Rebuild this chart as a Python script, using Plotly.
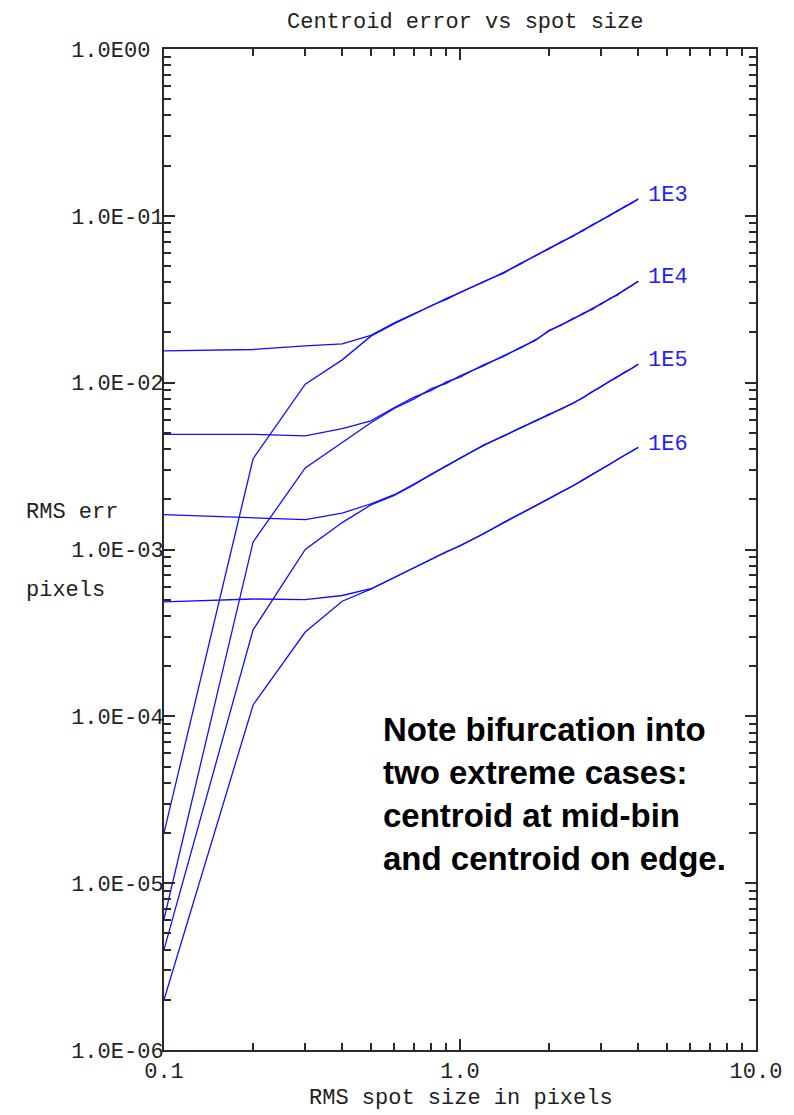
import numpy as np
import plotly.graph_objects as go

# ---------------- data ----------------
spot_size = [0.1, 0.2, 0.3, 0.4, 0.5, 0.6, 0.7, 0.8, 0.9, 1.0, 1.2, 1.4, 1.6, 1.8,
             2.0, 2.2, 2.4, 2.6, 2.8, 3.0, 3.2, 3.4, 3.6, 3.8, 4.0]

# centroid at mid-bin (flat at small spot sizes)
mid_1e3 = [0.0155, 0.0158, 0.0166, 0.0171, 0.0192, 0.0228, 0.0259, 0.0288, 0.0320, 0.0346,
           0.0404, 0.0452, 0.0519, 0.0574, 0.0641, 0.0692, 0.0760, 0.0812, 0.0886, 0.0938,
           0.1012, 0.1063, 0.1140, 0.1188, 0.1265]
mid_1e4 = [0.0049, 0.0049, 0.0048, 0.0053, 0.0059, 0.0071, 0.0082, 0.0090, 0.0101, 0.0108,
           0.0128, 0.0143, 0.0163, 0.0179, 0.0206, 0.0221, 0.0242, 0.0257, 0.0279, 0.0295,
           0.0319, 0.0335, 0.0362, 0.0380, 0.0407]
mid_1e5 = [0.00162, 0.00155, 0.00151, 0.00165, 0.00188, 0.00213, 0.00247, 0.00281, 0.00319,
           0.00351, 0.00423, 0.00476, 0.00538, 0.00588, 0.00647, 0.00694, 0.00753, 0.00810,
           0.00884, 0.00945, 0.01020, 0.01080, 0.01157, 0.01216, 0.01295]
mid_1e6 = [4.85e-4, 5.05e-4, 5.0e-4, 5.3e-4, 5.82e-4, 6.83e-4, 7.76e-4, 8.77e-4, 9.66e-4,
           1.055e-3, 1.238e-3, 1.450e-3, 1.637e-3, 1.835e-3, 2.016e-3, 2.215e-3, 2.396e-3,
           2.615e-3, 2.815e-3, 3.035e-3, 3.235e-3, 3.465e-3, 3.665e-3, 3.885e-3, 4.10e-3]

# centroid on pixel edge (steep at small spot sizes)
edge_1e3 = [2.0e-5, 3.5e-3, 9.8e-3, 0.0137, 0.0190, 0.0226, 0.0257, 0.0290, 0.0316, 0.0348,
            0.0400, 0.0458, 0.0513, 0.0580, 0.0634, 0.0700, 0.0751, 0.0822, 0.0875, 0.0948,
            0.1000, 0.1075, 0.1126, 0.1200, 0.1255]
edge_1e4 = [6.1e-6, 1.11e-3, 3.08e-3, 4.35e-3, 5.75e-3, 0.0070, 0.0080, 0.0092, 0.0099, 0.0110,
            0.0126, 0.0145, 0.0161, 0.0181, 0.0204, 0.0223, 0.0239, 0.0260, 0.0275, 0.0299,
            0.0316, 0.0339, 0.0358, 0.0384, 0.0403]
edge_1e5 = [4.0e-6, 3.3e-4, 1.0e-3, 1.45e-3, 1.85e-3, 0.00211, 0.00245, 0.00283, 0.00316,
            0.00353, 0.00419, 0.00480, 0.00533, 0.00592, 0.00641, 0.00700, 0.00748, 0.00816,
            0.00877, 0.00951, 0.01013, 0.01087, 0.01148, 0.01224, 0.01285]
edge_1e6 = [2.0e-6, 1.17e-4, 3.2e-4, 4.9e-4, 5.78e-4, 6.79e-4, 7.80e-4, 8.71e-4, 9.70e-4,
            1.049e-3, 1.243e-3, 1.444e-3, 1.643e-3, 1.826e-3, 2.024e-3, 2.205e-3, 2.404e-3,
            2.605e-3, 2.825e-3, 3.025e-3, 3.245e-3, 3.455e-3, 3.675e-3, 3.875e-3, 4.09e-3]

series_labels = ["1E3", "1E4", "1E5", "1E6"]
mid_series = [mid_1e3, mid_1e4, mid_1e5, mid_1e6]
edge_series = [edge_1e3, edge_1e4, edge_1e5, edge_1e6]

x_tickvals = [0.1, 1.0, 10.0]
x_ticktext = ["0.1", "1.0", "10.0"]
x_minor = [0.2, 0.3, 0.4, 0.5, 0.6, 0.7, 0.8, 0.9, 2, 3, 4, 5, 6, 7, 8, 9]
y_tickvals = [1e0, 1e-1, 1e-2, 1e-3, 1e-4, 1e-5, 1e-6]
y_ticktext = ["1.0E00", "1.0E-01", "1.0E-02", "1.0E-03", "1.0E-04", "1.0E-05", "1.0E-06"]
y_minor = [m * 10.0 ** e for e in range(-6, 0) for m in range(2, 10)]

title_text = "Centroid error vs spot size"
x_title = "RMS spot size in pixels"
y_title_top = "RMS err"
y_title_bottom = "pixels"
note_lines = ["Note bifurcation into", "two extreme cases:",
              "centroid at mid-bin", "and centroid on edge."]

# ---------------- figure ----------------
LINE = "rgb(15,15,255)"
MONO = "Liberation Mono, Courier New, monospace"
AXC = "#2a2a2a"
TXT = "#222"
FS = 22

fig = go.Figure()
for lab, mid, edge in zip(series_labels, mid_series, edge_series):
    fig.add_trace(go.Scatter(x=spot_size, y=mid, mode="lines",
                             line=dict(color=LINE, width=1.3), name=lab + " mid-bin",
                             showlegend=False))
    fig.add_trace(go.Scatter(x=spot_size, y=edge, mode="lines",
                             line=dict(color=LINE, width=1.3), name=lab + " edge",
                             showlegend=False))

# plot-area geometry in page pixels (used to place paper-referenced texts)
PL, PR, PT, PB = 164, 766, 49, 1050
def px(xp):
    return (xp - PL) / (PR - PL)
def py(yp):
    return (PB - yp) / (PB - PT)

# curve-end labels
for lab, mid in zip(series_labels, mid_series):
    fig.add_annotation(x=np.log10(spot_size[-1]), y=np.log10(mid[-1]),
                       xref="x", yref="y", text=lab, showarrow=False,
                       xanchor="left", yanchor="middle", xshift=8, yshift=3,
                       font=dict(family=MONO, size=FS, color="rgb(30,30,255)"))

# y axis side titles
fig.add_annotation(x=px(22), y=py(513), xref="paper", yref="paper",
                   text=y_title_top, showarrow=False, xanchor="left", yanchor="middle",
                   font=dict(family=MONO, size=FS, color=TXT))
fig.add_annotation(x=px(22), y=py(590), xref="paper", yref="paper",
                   text=y_title_bottom, showarrow=False, xanchor="left", yanchor="middle",
                   font=dict(family=MONO, size=FS, color=TXT))
# x axis title
fig.add_annotation(x=px(466), y=py(1098), xref="paper", yref="paper",
                   text=x_title, showarrow=False, xanchor="center", yanchor="middle",
                   font=dict(family=MONO, size=FS, color=TXT))
# chart title
fig.add_annotation(x=px(470), y=py(23), xref="paper", yref="paper",
                   text=title_text, showarrow=False, xanchor="center", yanchor="middle",
                   font=dict(family=MONO, size=FS, color=TXT))
# note
fig.add_annotation(x=px(385), y=py(794), xref="paper", yref="paper",
                   text="<br>".join("<b>" + s + "</b>" for s in note_lines),
                   showarrow=False, xanchor="left", yanchor="middle", align="left",
                   font=dict(family="Liberation Sans, Arial, sans-serif", size=33,
                             color="black"))

axis_common = dict(showgrid=False, zeroline=False, showline=True, linecolor=AXC,
                   linewidth=2, mirror="allticks", ticks="inside", ticklen=11,
                   tickwidth=2, tickcolor=AXC,
                   tickfont=dict(family=MONO, size=FS, color=TXT))

fig.update_xaxes(type="log", range=[-1, 1], tickmode="array", tickvals=x_tickvals,
                 ticktext=x_ticktext,
                 minor=dict(tickmode="array", tickvals=x_minor, ticks="inside",
                            ticklen=7, tickwidth=2, tickcolor=AXC),
                 **axis_common)
fig.update_yaxes(type="log", range=[-6, 0], tickmode="array", tickvals=y_tickvals,
                 ticktext=[t.ljust(7, "\u00a0") for t in y_ticktext],
                 ticklabelstandoff=-6,
                 minor=dict(tickmode="array", tickvals=y_minor, ticks="inside",
                            ticklen=7, tickwidth=2, tickcolor=AXC),
                 **axis_common)

# the page body has an 8px margin: size the figure so that it fits the window
BODY = 8
W, H = 794 - BODY, 1115 - BODY
fig.update_layout(width=W, height=H, plot_bgcolor="white", paper_bgcolor="white",
                  margin=dict(l=PL - BODY, r=W - (PR - BODY), t=PT - BODY,
                              b=H - (PB - BODY)),
                  showlegend=False)

fig.write_html("out.html")
